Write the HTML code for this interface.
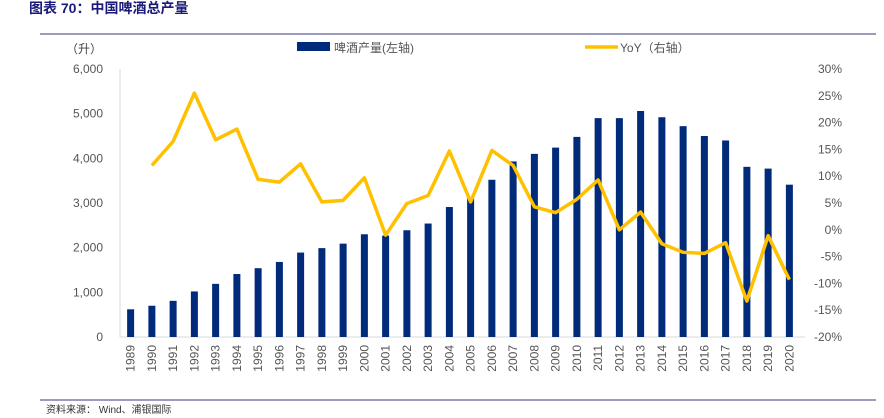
<!DOCTYPE html>
<html><head><meta charset="utf-8">
<style>
body{margin:0;background:#fff;font-family:"Liberation Sans","Noto Sans CJK SC",sans-serif;}
#wrap{position:relative;width:884px;height:418px;overflow:hidden;}
</style></head>
<body>
<div id="wrap">
<svg id="chart" width="884" height="418" xmlns="http://www.w3.org/2000/svg">
<text x="29" y="13" font-size="14" font-weight="bold" fill="#1a1a7a" font-family="Liberation Sans,Noto Sans CJK SC,sans-serif">图表 70：中国啤酒总产量</text>
<line x1="40" y1="34" x2="876" y2="34" stroke="#7b7aa8" stroke-width="1.5"/>
<text x="66" y="53" font-size="12" fill="#444">（升）</text>
<rect x="297" y="42" width="33" height="9" fill="#002a7a"/>
<text x="334" y="52" font-size="12" fill="#555">啤酒产量(左轴)</text>
<line x1="585" y1="47" x2="618" y2="47" stroke="#ffc000" stroke-width="3.5"/>
<text x="620" y="52" font-size="12" fill="#555">YoY（右轴）</text>
<g id="plot"></g>
<line x1="40" y1="400" x2="876" y2="400" stroke="#7b7aa8" stroke-width="1.5"/>
<text x="46" y="413" font-size="10" fill="#333">资料来源： Wind、浦银国际</text>
</svg>
</div>
<script>
const years=[1989,1990,1991,1992,1993,1994,1995,1996,1997,1998,1999,2000,2001,2002,2003,2004,2005,2006,2007,2008,2009,2010,2011,2012,2013,2014,2015,2016,2017,2018,2019,2020];
const production=[620,700,810,1020,1190,1410,1540,1680,1890,1990,2090,2300,2270,2390,2540,2910,3100,3520,3930,4100,4240,4480,4900,4900,5060,4920,4720,4500,4400,3810,3770,3410];
const yoy=[null,12,16.5,25.5,16.8,18.8,9.4,8.9,12.3,5.2,5.5,9.7,-1.0,4.9,6.4,14.7,5.2,14.8,12.0,4.3,3.2,5.7,9.3,0,3.3,-2.6,-4.2,-4.4,-2.4,-13.3,-1.1,-9.3];
const leftTicks=[0,1000,2000,3000,4000,5000,6000];
const leftTickLabels=["0","1,000","2,000","3,000","4,000","5,000","6,000"];
const rightTicks=[-20,-15,-10,-5,0,5,10,15,20,25,30];
const rightTickLabels=["-20%","-15%","-10%","-5%","0%","5%","10%","15%","20%","25%","30%"];

const NS="http://www.w3.org/2000/svg";
const g=document.getElementById('plot');
const X0=120,X1=800,Y0=337,Y1=69;
const step=(X1-X0)/years.length;
const xc=i=>X0+step*(i+0.5);
const yL=v=>Y0-(v-0)/6000*(Y0-Y1);
const yR=v=>Y0-(v+20)/50*(Y0-Y1);
function mk(tag,attrs){const e=document.createElementNS(NS,tag);for(const k in attrs)e.setAttribute(k,attrs[k]);g.appendChild(e);return e;}

const ax=mk('line',{x1:X0,y1:Y1,x2:X0,y2:Y0,stroke:'#d9d9d9'});


const bx=mk('line',{x1:X0,y1:Y0,x2:X1+5,y2:Y0,stroke:'#d9d9d9'});



leftTicks.forEach((v,i)=>{
  const t=mk('text',{x:103,y:yL(v)+4,'text-anchor':'end','font-size':12,fill:'#555'});
  t.textContent=leftTickLabels[i];
  
  
});
rightTicks.forEach((v,i)=>{
  const t=mk('text',{x:842,y:yR(v)+4,'text-anchor':'end','font-size':12,fill:'#555'});
  t.textContent=rightTickLabels[i];
  
  
});
production.forEach((v,i)=>{
  const r=mk('rect',{x:xc(i)-3.5,y:yL(v),width:7,height:Y0-yL(v),fill:'#002a7a'});
  
  
});
years.forEach((yv,i)=>{
  const t=mk('text',{x:0,y:0,'font-size':12,fill:'#555','text-anchor':'end',transform:`translate(${xc(i)+4},${Y0+8}) rotate(-90)`});
  t.textContent=yv;
  
  
});
let d='';
yoy.forEach((v,i)=>{if(v===null)return;d+=(d?'L':'M')+xc(i)+','+yR(v);});
const p=mk('path',{d:d,fill:'none',stroke:'#ffc000','stroke-width':3.5,'stroke-linejoin':'round'});


</script>
</body></html>
